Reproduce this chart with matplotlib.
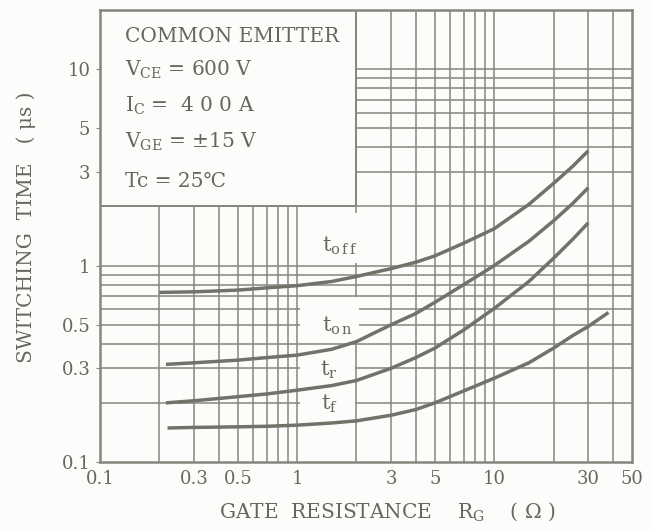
import matplotlib
matplotlib.use("Agg")
import matplotlib.pyplot as plt
from matplotlib.patches import Rectangle

# switching time vs gate resistance
rg_off = [0.2, 0.3, 0.5, 0.7, 1, 1.5, 2, 3, 4, 5, 7, 10, 15, 20, 25, 30]
t_off = [0.73, 0.735, 0.75, 0.77, 0.79, 0.83, 0.88, 0.965, 1.04, 1.12, 1.30, 1.54, 2.05, 2.62, 3.2, 3.84]

rg_on = [0.216, 0.3, 0.5, 0.7, 1, 1.5, 2, 3, 4, 5, 7, 10, 15, 20, 25, 30]
t_on = [0.314, 0.32, 0.33, 0.34, 0.35, 0.375, 0.41, 0.50, 0.57, 0.65, 0.80, 1.0, 1.33, 1.69, 2.07, 2.49]

rg_r = [0.216, 0.3, 0.5, 0.7, 1, 1.5, 2, 3, 4, 5, 7, 10, 15, 20, 25, 30]
t_r = [0.20, 0.205, 0.215, 0.222, 0.232, 0.245, 0.26, 0.30, 0.34, 0.38, 0.47, 0.605, 0.83, 1.09, 1.36, 1.65]

rg_f = [0.22, 0.3, 0.5, 0.7, 1, 1.5, 2, 3, 4, 5, 7, 10, 15, 20, 25, 30, 38]
t_f = [0.149, 0.15, 0.151, 0.152, 0.154, 0.158, 0.162, 0.173, 0.185, 0.20, 0.23, 0.267, 0.32, 0.38, 0.44, 0.49, 0.577]

xticks = [0.1, 0.3, 0.5, 1, 3, 5, 10, 30, 50]
xticklabels = ["0.1", "0.3", "0.5", "1", "3", "5", "10", "30", "50"]
yticks = [0.1, 0.3, 0.5, 1, 3, 5, 10]
yticklabels = ["0.1", "0.3", "0.5", "1", "3", "5", "10"]

grid_x = [0.2, 0.3, 0.4, 0.5, 0.6, 0.7, 0.8, 0.9, 1, 2, 3, 4, 5, 6, 7, 8, 9, 10, 20, 30, 40]
grid_y = [0.2, 0.3, 0.4, 0.5, 0.6, 0.7, 0.8, 0.9, 1, 2, 3, 4, 5, 6, 7, 8, 9, 10]

conditions = ["COMMON EMITTER", r"V$_{\rm CE}$ = 600 V", r"I$_{\rm C}$ =  4 0 0 A",
              r"V$_{\rm GE}$ = ±15 V", "Tc = 25℃"]

plt.rcParams['font.family'] = ['DejaVu Serif', 'DejaVu Sans']
plt.rcParams['mathtext.fontset'] = 'dejavuserif'

paper = "#fcfcfa"
line_c = "#86867e"
curve_c = "#72726a"
text_c = "#666662"

fig = plt.figure(figsize=(6.52, 5.31), dpi=100, facecolor=paper)
ax = fig.add_axes([100 / 652, 69 / 531, 532 / 652, 452 / 531])
ax.set_facecolor(paper)
ax.set_xscale('log')
ax.set_yscale('log')
ax.set_xlim(0.1, 50)
ax.set_ylim(0.1, 20)

for gx in grid_x:
    ax.axvline(gx, color=line_c, lw=1.1, zorder=1)
for gy in grid_y:
    ax.axhline(gy, color=line_c, lw=1.1, zorder=1)

# white conditions box and blank spots behind the curve labels
ax.add_patch(Rectangle((0.1, 2), 1.9, 18, facecolor=paper, edgecolor=line_c, lw=1.4, zorder=2))
ax.add_patch(Rectangle((1.03, 1.03), 1.03, 0.82, facecolor=paper, edgecolor='none', zorder=2))
ax.add_patch(Rectangle((1.03, 0.41), 1.03, 0.28, facecolor=paper, edgecolor='none', zorder=2))
ax.add_patch(Rectangle((1.03, 0.16), 0.93, 0.23, facecolor=paper, edgecolor='none', zorder=2))

for xs, ys in [(rg_off, t_off), (rg_on, t_on), (rg_r, t_r), (rg_f, t_f)]:
    ax.plot(xs, ys, color=curve_c, lw=2.5, solid_capstyle='butt', solid_joinstyle='round', zorder=3)

ax.text(1.64, 1.26, r"t$_{\rm o\,f\,f}$", fontsize=15, color=text_c, ha='center', va='center', zorder=4)
ax.text(1.6, 0.496, r"t$_{\rm o\,n}$", fontsize=15, color=text_c, ha='center', va='center', zorder=4)
ax.text(1.44, 0.293, r"t$_{\rm r}$", fontsize=15, color=text_c, ha='center', va='center', zorder=4)
ax.text(1.46, 0.197, r"t$_{\rm f}$", fontsize=15, color=text_c, ha='center', va='center', zorder=4)

ys_txt = [0.929, 0.854, 0.774, 0.695, 0.608]
for s, yy in zip(conditions, ys_txt):
    ax.text(0.047, yy, s, transform=ax.transAxes, fontsize=14.5, color=text_c,
            ha='left', va='baseline', zorder=4)

for sp in ax.spines.values():
    sp.set_color(line_c)
    sp.set_linewidth(1.8)

ax.set_xticks(xticks)
ax.set_xticklabels(xticklabels)
ax.set_yticks(yticks)
ax.set_yticklabels(yticklabels)
ax.minorticks_off()
ax.tick_params(axis='x', length=0, pad=6, labelsize=13, labelcolor=text_c)
ax.tick_params(axis='y', length=3, pad=4, labelsize=13, labelcolor=text_c, color=line_c)

ax.set_xlabel(r"GATE  RESISTANCE    R$_{\rm G}$    ( Ω )", fontsize=14.5, color=text_c)
ax.xaxis.set_label_coords(0.54, -0.085)
ax.set_ylabel("SWITCHING  TIME   ( μs )", fontsize=14.5, color=text_c)
ax.yaxis.set_label_coords(-0.12, 0.52)

fig.savefig("out.png", dpi=100, facecolor=paper)
